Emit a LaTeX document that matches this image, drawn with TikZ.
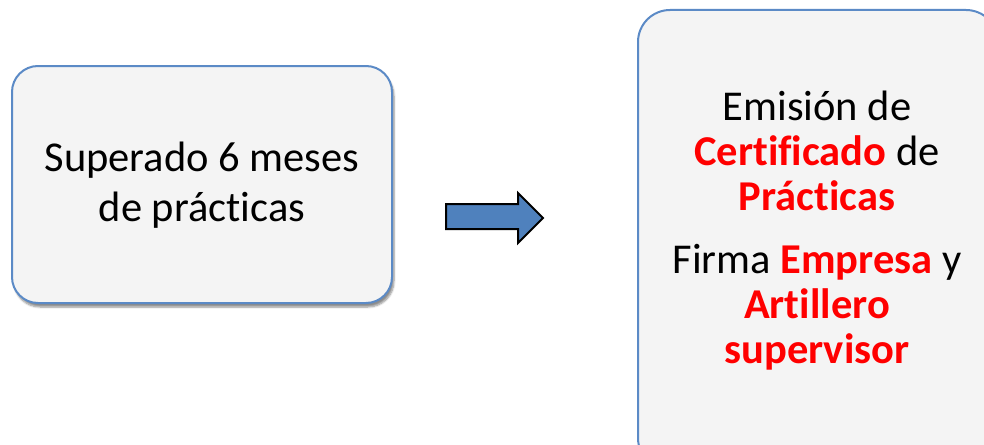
\documentclass[tikz,border=0pt]{standalone}
\usepackage{fontspec}
\setmainfont[Ligatures=NoCommon]{Carlito}
\usetikzlibrary{shadows.blur}
\definecolor{boxfill}{HTML}{F4F4F4}
\definecolor{boxline}{HTML}{5B8AC6}
\definecolor{arrowfill}{HTML}{4F81BD}
\definecolor{txtred}{HTML}{FF0000}
\tikzset{
  card/.style={draw=boxline, line width=2pt, fill=boxfill, rounded corners=26pt,
    blur shadow={shadow xshift=2pt, shadow yshift=-4pt, shadow blur steps=6, shadow opacity=45}},
  bigarrow/.style={draw=black, line width=2pt, fill=arrowfill, line join=miter},
  lbl/.style={align=center, inner sep=0pt}
}
\begin{document}
\begin{tikzpicture}[x=1pt,y=-1pt]
\useasboundingbox (0,0) rectangle (984,444);
\begin{scope}
\clip (0,0) rectangle (984,444);
\path[card] (12,66) rectangle (392,303);
\path[card, rounded corners=32pt] (638,10) rectangle (998,470);
\end{scope}
\node[lbl, font=\fontsize{42.5}{50}\selectfont] (left) at (202,185) {Superado 6 meses\\de prácticas};
\node[lbl, font=\fontsize{42.5}{45}\selectfont] (right) at (817,231)
  {Emisión de\\{\bfseries\color{txtred}Certificado} de\\{\bfseries\color{txtred}Prácticas}\\[18pt]
   Firma {\bfseries\color{txtred}Empresa} y\\{\bfseries\color{txtred}Artillero}\\{\bfseries\color{txtred}supervisor}};
\path[bigarrow] (446,204) -- (518,204) -- (518,193) -- (543,218) -- (518,243) -- (518,229) -- (446,229) -- cycle;
\end{tikzpicture}
\end{document}
